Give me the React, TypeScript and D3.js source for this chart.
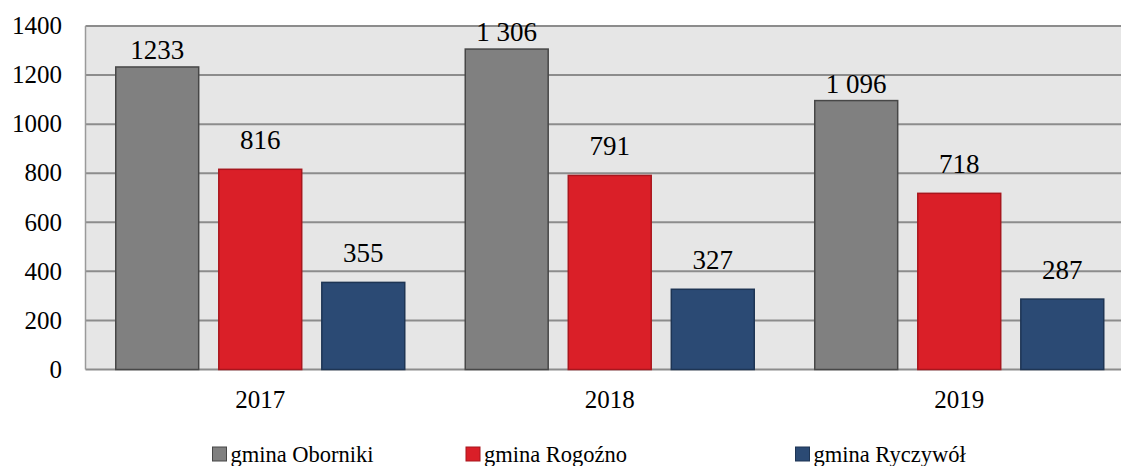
import React from "react";
import * as d3 from "d3";

const categories = ["2017", "2018", "2019"];
const seriesNames = ["gmina Oborniki", "gmina Rogoźno", "gmina Ryczywół"];
const oborniki = [1233, 1306, 1096];
const rogozno = [816, 791, 718];
const ryczywol = [355, 327, 287];
const labelsOborniki = ["1233", "1 306", "1 096"];
const labelsRogozno = ["816", "791", "718"];
const labelsRyczywol = ["355", "327", "287"];
const yTicks = [0, 200, 400, 600, 800, 1000, 1200, 1400];

const fills = ["#808080", "#DA1F28", "#2B4A74"];
const strokes = ["#474747", "#A8161D", "#1E3554"];

export default function App() {
  const W = 1121, H = 466;
  const left = 85.5, right = 1134, top = 26, bottom = 369.5;
  const series = [oborniki, rogozno, ryczywol];
  const labels = [labelsOborniki, labelsRogozno, labelsRyczywol];
  const labelOffset = [8, 20, 20];

  const x0 = d3.scaleBand<string>().domain(categories).range([left, right]).paddingInner(0).paddingOuter(0);
  const groupW = 289;
  const x1 = d3.scaleBand<number>().domain([0, 1, 2]).range([0, groupW]).paddingInner(0.195).paddingOuter(0);
  const y = d3.scaleLinear().domain([0, 1400]).range([bottom, top]);
  const fam = "'Liberation Serif', 'Times New Roman', serif";
  const tickStyle = { fontFamily: fam, fontSize: "25px" };
  const dataStyle = { fontFamily: fam, fontSize: "27px" };
  const legStyle = { fontFamily: fam, fontSize: "22.5px" };

  return (
    <svg width={W} height={H} style={{ position: "absolute", left: 0, top: 0, background: "#fff" }}>
      <rect x={left} y={top} width={right - left} height={bottom - top} fill="#E6E6E6" />
      {yTicks.map((t) => (
        <line key={"g" + t} x1={left} x2={right} y1={y(t)} y2={y(t)} stroke="#8C8C8C" strokeWidth={2} />
      ))}
      <line x1={left} x2={left} y1={top} y2={bottom} stroke="#9A9A9A" strokeWidth={1.5} />
      {yTicks.map((t) => (
        <text key={"t" + t} x={62} y={y(t)} dy="0.33em" textAnchor="end" style={tickStyle} fill="#000">
          {t}
        </text>
      ))}
      {categories.map((c, i) => {
        const gx = (x0(c) as number) + (x0.bandwidth() - groupW) / 2;
        return (
          <g key={c}>
            {series.map((s, k) => {
              const bx = gx + (x1(k) as number);
              const bw = x1.bandwidth();
              return (
                <g key={k}>
                  <rect x={bx} y={y(s[i])} width={bw} height={y(0) - y(s[i])} fill={fills[k]} stroke={strokes[k]} strokeWidth={1.5} />
                  <text x={bx + bw / 2} y={y(s[i]) - labelOffset[k]} textAnchor="middle" style={dataStyle} fill="#000">
                    {labels[k][i]}
                  </text>
                </g>
              );
            })}
            <text x={(x0(c) as number) + x0.bandwidth() / 2} y={407.5} textAnchor="middle" style={tickStyle} fill="#000">
              {c}
            </text>
          </g>
        );
      })}
      {seriesNames.map((n, k) => {
        const lx = [212.5, 466, 795.5][k];
        return (
          <g key={n}>
            <rect x={lx} y={447} width={14} height={14} fill={fills[k]} stroke={strokes[k]} strokeWidth={1} />
            <text x={lx + 18} y={461.5} style={legStyle} fill="#000">
              {n}
            </text>
          </g>
        );
      })}
    </svg>
  );
}
